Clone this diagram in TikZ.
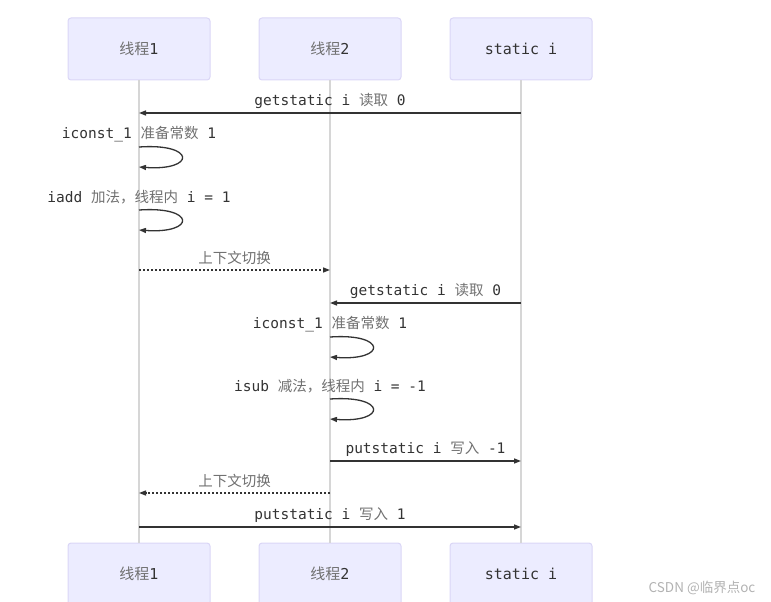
\documentclass[tikz,border=0pt]{standalone}
\usepackage{fontspec}
\setmonofont{DejaVu Sans Mono}
\newfontfamily\cjk{Noto Sans CJK SC}
\usepackage{xcolor}
\usetikzlibrary{arrows.meta,positioning}
\definecolor{actorfill}{HTML}{ECECFF}
\definecolor{actordraw}{HTML}{DAD6F6}
\definecolor{lifecol}{HTML}{D6D6D6}
\definecolor{msgcol}{HTML}{333333}
\definecolor{zhcol}{HTML}{707070}
\newcommand{\zh}[1]{{\cjk\color{zhcol}#1}}

\begin{document}
\begin{tikzpicture}[
  x=1pt, y=-1pt,
  node distance=48pt,
  actor/.style={rectangle, draw=actordraw, fill=actorfill, rounded corners=3pt,
                minimum width=142pt, minimum height=62pt, line width=1pt,
                font=\fontsize{15}{17}\selectfont\ttfamily, text=msgcol},
  life/.style={draw=lifecol, line width=1.2pt},
  arrow/.style={-{Triangle[length=7pt,width=5pt]}, draw=msgcol, line width=1.3pt},
  switch/.style={arrow, dash pattern=on 2pt off 2pt},
  msg/.style={font=\fontsize{14.5}{16}\selectfont\ttfamily, text=msgcol, inner sep=0pt}
]
  \useasboundingbox (0,0) rectangle (771,602);

  \node[actor] (t1) at (139,49) {\zh{线程}1};
  \node[actor, right=of t1] (t2) {\zh{线程}2};
  \node[actor, right=of t2] (t3) {static i};
  \node[actor] (b1) at (139,574) {\zh{线程}1};
  \node[actor, right=of b1] (b2) {\zh{线程}2};
  \node[actor, right=of b2] (b3) {static i};

  \draw[life] (t1.south) -- (b1.north);
  \draw[life] (t2.south) -- (b2.north);
  \draw[life] (t3.south) -- (b3.north);

  % message rows
  \coordinate (r1) at (0,113);
  \coordinate (r2) at (0,147);
  \coordinate (r3) at (0,210);
  \coordinate (r4) at (0,270);
  \coordinate (r5) at (0,303);
  \coordinate (r6) at (0,337);
  \coordinate (r7) at (0,399);
  \coordinate (r8) at (0,461);
  \coordinate (r9) at (0,493);
  \coordinate (r10) at (0,527);

  \draw[arrow] (t3 |- r1) -- node[msg, yshift=12pt] {getstatic i \zh{读取} 0} (t1 |- r1);
  \draw[arrow] (t1 |- r2) node[msg, yshift=13pt] {iconst\_1 \zh{准备常数} 1}
    .. controls +(57,-4) and +(57,4) .. ++(0,20);
  \draw[arrow] (t1 |- r3) node[msg, yshift=13pt] {iadd \zh{加法，}\zh{线程内} i = 1}
    .. controls +(57,-4) and +(57,4) .. ++(0,20);
  \draw[switch] (t1 |- r4) -- node[msg, yshift=12pt] {\zh{上下文切换}} (t2 |- r4);
  \draw[arrow] (t3 |- r5) -- node[msg, yshift=12pt] {getstatic i \zh{读取} 0} (t2 |- r5);
  \draw[arrow] (t2 |- r6) node[msg, yshift=13pt] {iconst\_1 \zh{准备常数} 1}
    .. controls +(57,-4) and +(57,4) .. ++(0,20);
  \draw[arrow] (t2 |- r7) node[msg, yshift=13pt] {isub \zh{减法，}\zh{线程内} i = -1}
    .. controls +(57,-4) and +(57,4) .. ++(0,20);
  \draw[arrow] (t2 |- r8) -- node[msg, yshift=12pt] {putstatic i \zh{写入} -1} (t3 |- r8);
  \draw[switch] (t2 |- r9) -- node[msg, yshift=12pt] {\zh{上下文切换}} (t1 |- r9);
  \draw[arrow] (t1 |- r10) -- node[msg, yshift=12pt] {putstatic i \zh{写入} 1} (t3 |- r10);

  \node[font=\cjk\fontsize{13.5}{15}\selectfont, text=gray!60] (mark) at (702,588) {CSDN @临界点oc};
\end{tikzpicture}
\end{document}
